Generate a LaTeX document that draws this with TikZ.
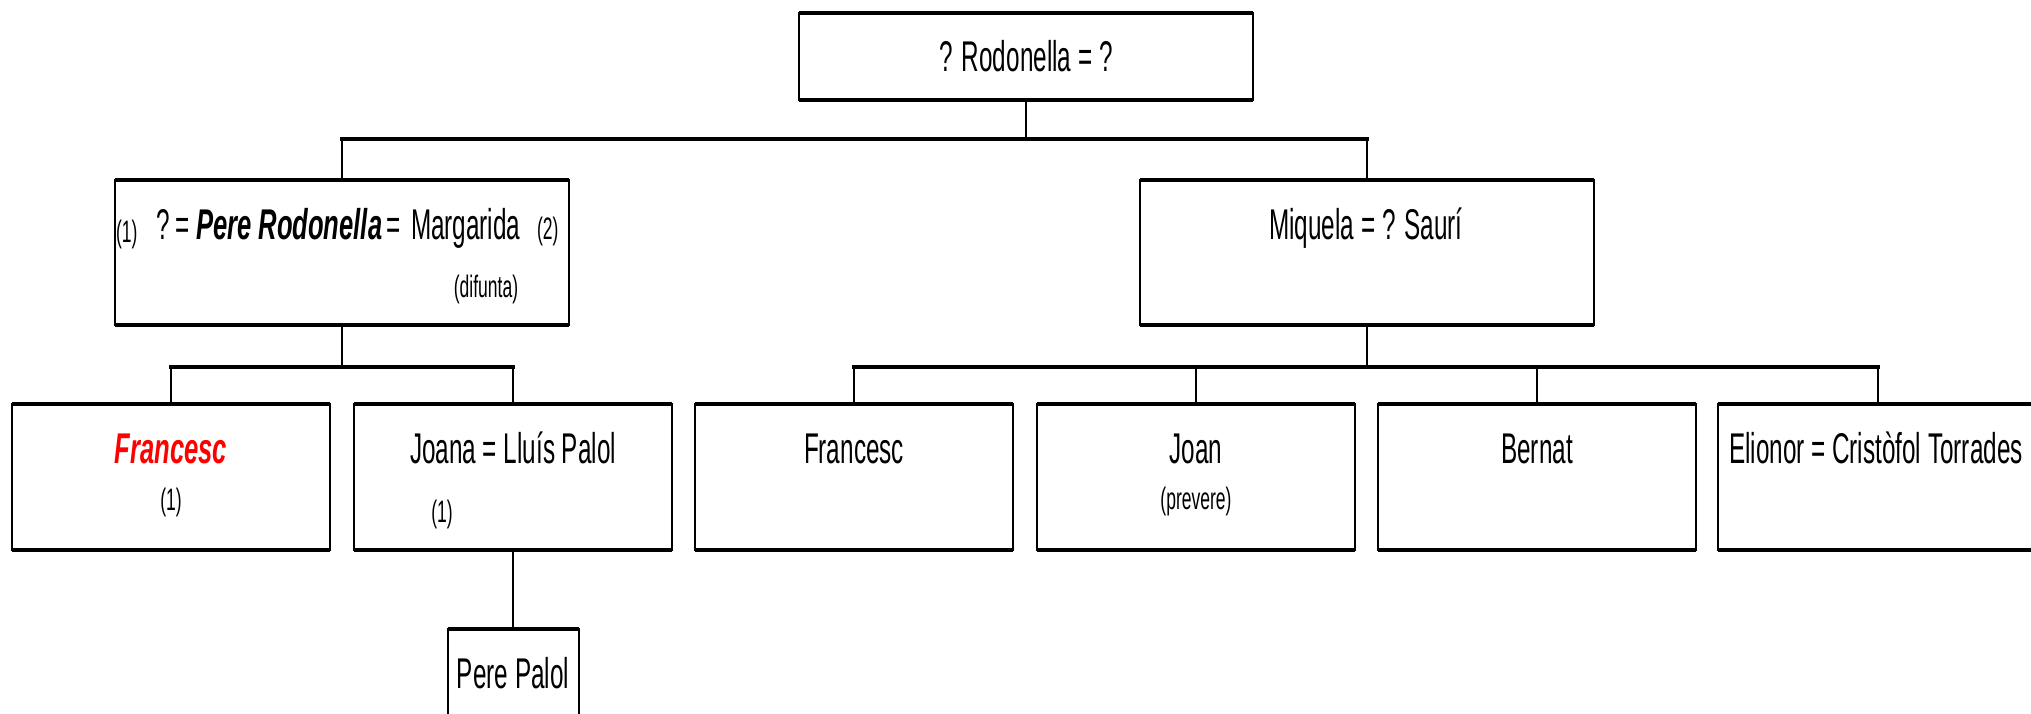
\documentclass[tikz,border=0pt]{standalone}
\usepackage{fontspec}
\setmainfont{Liberation Sans}[FakeStretch=0.565]
\newfontfamily\bifam{Liberation Sans}[FakeStretch=0.595]
\newcommand{\bigsz}{\fontsize{43}{50}\selectfont}
\newcommand{\smallsz}{\fontsize{31}{36}\selectfont}
\newcommand{\bistyle}[1]{{\bifam\bfseries\itshape #1}}
\tikzset{
  fambox/.style={rectangle, draw=black, line width=2pt, outer sep=0pt, inner sep=0pt, fill=white},
  l3box/.style={fambox, minimum width=318pt, minimum height=146pt},
  l2box/.style={fambox, minimum width=454pt, minimum height=145pt},
  hline/.style={line width=3.6pt, line cap=rect},
  vline/.style={line width=2pt},
  txt/.style={inner sep=0pt, outer sep=0pt, font=\bigsz, anchor=base},
  stxt/.style={inner sep=0pt, outer sep=0pt, font=\smallsz, anchor=base},
}
\begin{document}
\begin{tikzpicture}[x=1pt,y=-1pt]
\useasboundingbox[fill=white] (0,0) rectangle (2031,714);
% bar levels
\coordinate (bar1) at (0,139);
\coordinate (bar2) at (0,367);
% boxes
\node[fambox, minimum width=454pt, minimum height=87pt] (top) at (1026,56.5) {};
\node[l2box] (pere) at (342,252.5) {};
\node[l2box] (miq) at (1367,252.5) {};
\node[l3box] (fr1) at (171,477) {};
\node[l3box] (joana) at (513,477) {};
\node[l3box] (fr2) at (854,477) {};
\node[l3box] (joan) at (1196,477) {};
\node[l3box] (bern) at (1537,477) {};
\node[l3box, minimum width=320pt] (eli) at (1878,477) {};
\node[fambox, minimum width=131pt, minimum height=140pt] (pp) at (513,699) {};
\foreach \n in {top,pere,miq,fr1,joana,fr2,joan,bern,eli,pp}{
  \draw[hline, line cap=butt] (\n.north west) -- (\n.north east) (\n.south west) -- (\n.south east);
}
% connectors
\draw[vline] (top.south) -- (top.south |- bar1);
\draw[hline] (pere.north |- bar1) -- (miq.north |- bar1);
\draw[vline] (pere.north |- bar1) -- (pere.north);
\draw[vline] (miq.north |- bar1) -- (miq.north);
\draw[vline] (pere.south) -- (pere.south |- bar2);
\draw[hline] (fr1.north |- bar2) -- (joana.north |- bar2);
\draw[vline] (fr1.north |- bar2) -- (fr1.north);
\draw[vline] (joana.north |- bar2) -- (joana.north);
\draw[vline] (miq.south) -- (miq.south |- bar2);
\draw[hline] (fr2.north |- bar2) -- (eli.north |- bar2);
\foreach \n in {fr2,joan,bern,eli}{
  \draw[vline] (\n.north |- bar2) -- (\n.north);
}
\draw[vline] (joana.south) -- (pp.north);
% texts
\node[txt] (t0) at (1026,72) {? Rodonella = ?};
\node[stxt, anchor=base west] (t1a) at (116,242) {(1)};
\node[txt, anchor=base west] (t1q) at (156,240) {?};
\node[txt, anchor=base west] (t1e) at (175,240) {=};
\node[txt, anchor=base west] (t1p) at (196,240) {\bistyle{Pere Rodonella}};
\node[txt, anchor=base west] (t1f) at (386,240) {=};
\node[txt, anchor=base west] (t1m) at (411,240) {Margarida};
\node[stxt, anchor=base west] (t1c) at (537,240) {(2)};
\node[stxt] (t1d) at (486,297) {(difunta)};
\node[txt] (t2) at (1366,240) {Miquela = ? Saurí};
\node[txt, text=red] (t3) at (171,463) {\bistyle{Francesc}};
\node[stxt] (t3b) at (171,510) {(1)};
\node[txt] (t4) at (513,463) {Joana = Lluís Palol};
\node[stxt] (t4b) at (442,522) {(1)};
\node[txt] (t5) at (854,463) {Francesc};
\node[txt] (t6) at (1196,463) {Joan};
\node[stxt] (t6b) at (1196,509) {(prevere)};
\node[txt] (t7) at (1537,463) {Bernat};
\node[txt, anchor=base west] (t8) at (1729,463) {Elionor = Cristòfol Torrades};
\node[txt] (t9) at (513,688) {Pere Palol};
\end{tikzpicture}
\end{document}
